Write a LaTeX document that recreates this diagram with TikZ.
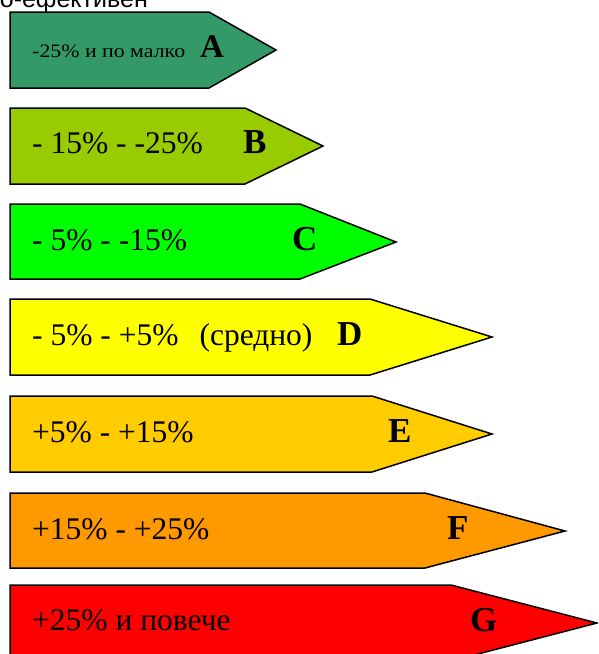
\documentclass[tikz,border=0pt]{standalone}
\usepackage{fontspec}
\setmainfont{Liberation Serif}
\newfontfamily\headfont{Liberation Sans}
\definecolor{clsA}{RGB}{51,153,102}
\definecolor{clsB}{RGB}{153,204,0}
\definecolor{clsC}{RGB}{0,255,0}
\definecolor{clsD}{RGB}{255,255,0}
\definecolor{clsE}{RGB}{255,204,0}
\definecolor{clsF}{RGB}{255,153,0}
\definecolor{clsG}{RGB}{255,0,0}
\tikzset{
  band/.style={draw=black, line width=1.5pt, line join=miter},
  rangetxt/.style={anchor=base west, inner sep=0pt, font=\fontsize{31.5}{38}\selectfont},
  classtxt/.style={anchor=base west, inner sep=0pt, font=\fontsize{35}{42}\selectfont\bfseries},
}

\begin{document}
\begin{tikzpicture}[x=1pt,y=-1pt]
\clip (0,0) rectangle (598,654);
\node[anchor=base east, inner sep=0pt, font=\headfont\fontsize{25}{30}\selectfont] (head) at (148,7) {По-ефективен};
% bands
\filldraw[band, fill=clsA] (10,12) -- (209,12) -- (276,50) -- (209,88) -- (10,88) -- cycle;
\filldraw[band, fill=clsB] (10,108) -- (245,108) -- (323,146) -- (245,184) -- (10,184) -- cycle;
\filldraw[band, fill=clsC] (10,204) -- (300,204) -- (396,242) -- (300,279) -- (10,279) -- cycle;
\filldraw[band, fill=clsD] (10,299) -- (370,299) -- (492,337) -- (370,375) -- (10,375) -- cycle;
\filldraw[band, fill=clsE] (10,396) -- (372,396) -- (492,434) -- (372,472) -- (10,472) -- cycle;
\filldraw[band, fill=clsF] (10,493) -- (425,493) -- (565,531) -- (425,568) -- (10,568) -- cycle;
\filldraw[band, fill=clsG] (10,585) -- (451,585) -- (597,623) -- (451,661) -- (10,661) -- cycle;
% ranges
\node[rangetxt, font=\fontsize{19}{23}\selectfont, xscale=1.15] (ra) at (32,57) {-25\% и по малко};
\node[rangetxt] (rb) at (32,153) {- 15\% - -25\%};
\node[rangetxt] (rc) at (32,250) {- 5\% - -15\%};
\node[rangetxt] (rd) at (32,345) {- 5\% - +5\%\ \ \,(средно)};
\node[rangetxt] (re) at (32,442) {+5\% - +15\%};
\node[rangetxt] (rf) at (32,539) {+15\% - +25\%};
\node[rangetxt] (rg) at (32,630) {+25\% и повече};
% classes
\node[classtxt, font=\fontsize{33}{40}\selectfont\bfseries] (la) at (200,57) {A};
\node[classtxt] (lb) at (243,153) {B};
\node[classtxt] (lc) at (292,250) {C};
\node[classtxt] (ld) at (337,345) {D};
\node[classtxt] (le) at (388,442) {E};
\node[classtxt] (lf) at (447,539) {F};
\node[classtxt] (lg) at (470,631) {G};
\end{tikzpicture}
\end{document}
